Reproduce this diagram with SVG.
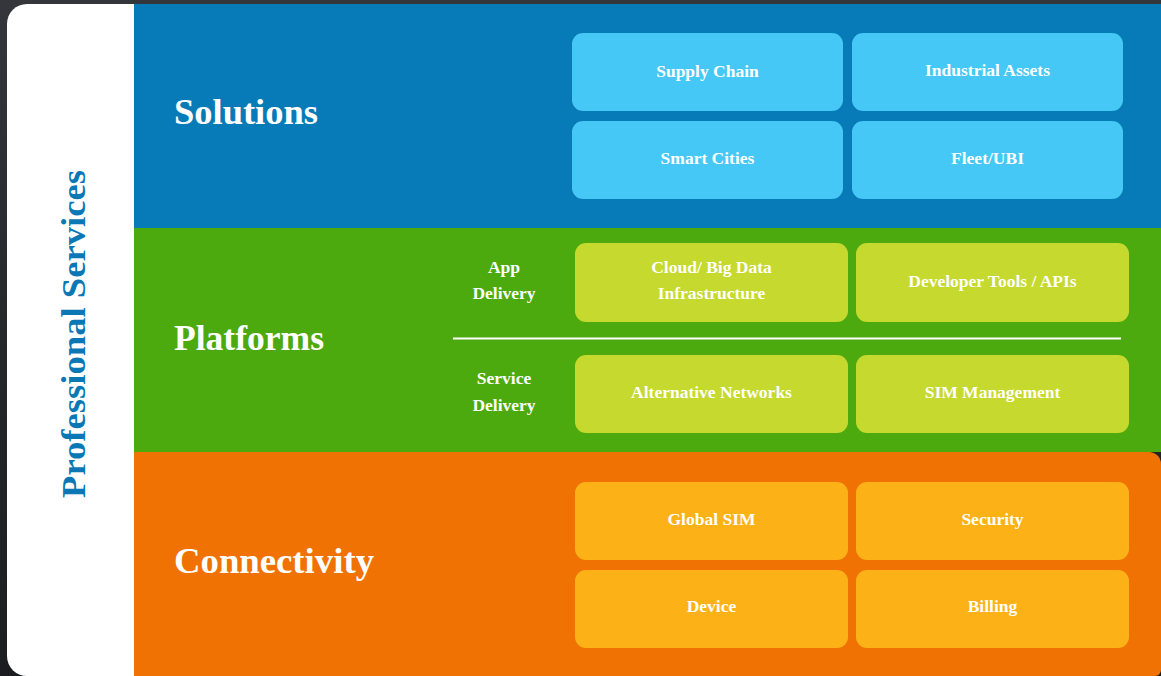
<svg xmlns="http://www.w3.org/2000/svg" width="1161" height="676" viewBox="0 0 1161 676">
<defs>
<linearGradient id="bg" x1="0" y1="0" x2="0" y2="1">
<stop offset="0" stop-color="#34363c"/>
<stop offset="0.5" stop-color="#25272b"/>
<stop offset="1" stop-color="#1b1d21"/>
</linearGradient>
</defs>
<style>
.title{font-family:"Liberation Serif",serif;font-weight:bold;font-size:36px;fill:#ffffff}
.lbl{font-family:"Liberation Serif",serif;font-weight:bold;font-size:17.5px;fill:#ffffff;text-anchor:middle}
.sb{fill:#45c8f5}
.gb{fill:#c6d92e}
.ob{fill:#fcb216}
</style>
<rect x="0" y="0" width="1161" height="676" fill="url(#bg)"/>
<g id="professional-services">
<path d="M27,4 H140 V676 H27 A20,20 0 0 1 7,656 V24 A20,20 0 0 1 27,4 Z" fill="#ffffff"/>
<text transform="translate(85,334) rotate(-90)" text-anchor="middle" font-family="Liberation Serif, serif" font-weight="bold" font-size="34" fill="#0b78b5" textLength="328" lengthAdjust="spacingAndGlyphs">Professional Services</text>
</g>
<g id="solutions">
<rect x="134" y="4" width="1027" height="224" fill="#077bb8"/>
<text class="title" x="174" y="124" textLength="144" lengthAdjust="spacingAndGlyphs">Solutions</text>
</g>
<g id="platforms">
<rect x="134" y="228" width="1027" height="224" fill="#4caa0e"/>
<text class="title" x="174" y="350" textLength="150" lengthAdjust="spacingAndGlyphs">Platforms</text>
<line x1="453" y1="338.5" x2="1121" y2="338.5" stroke="#ffffff" stroke-width="2"/>
<text class="lbl" x="504" y="273">App</text>
<text class="lbl" x="504" y="299">Delivery</text>
<text class="lbl" x="504" y="384">Service</text>
<text class="lbl" x="504" y="411">Delivery</text>
</g>
<g id="connectivity">
<path d="M134,452 H1149 A12,12 0 0 1 1161,464 V670 A6,6 0 0 1 1155,676 H134 Z" fill="#ef7202"/>
<text class="title" x="174" y="573" textLength="200" lengthAdjust="spacingAndGlyphs">Connectivity</text>
</g>
<g id="supply-chain"><rect class="sb" x="572" y="33" width="271" height="78" rx="11"/><text class="lbl" x="707.5" y="77">Supply Chain</text></g>
<g id="industrial-assets"><rect class="sb" x="852" y="33" width="271" height="78" rx="11"/><text class="lbl" x="987.5" y="76">Industrial Assets</text></g>
<g id="smart-cities"><rect class="sb" x="572" y="121" width="271" height="78" rx="11"/><text class="lbl" x="707.5" y="164">Smart Cities</text></g>
<g id="fleet-ubi"><rect class="sb" x="852" y="121" width="271" height="78" rx="11"/><text class="lbl" x="987.5" y="164">Fleet/UBI</text></g>
<g id="cloud-big-data"><rect class="gb" x="575" y="243" width="273" height="79" rx="11"/><text class="lbl" x="711.5" y="273">Cloud/ Big Data</text><text class="lbl" x="711.5" y="299">Infrastructure</text></g>
<g id="developer-tools"><rect class="gb" x="856" y="243" width="273" height="79" rx="11"/><text class="lbl" x="992.5" y="287">Developer Tools / APIs</text></g>
<g id="alternative-networks"><rect class="gb" x="575" y="355" width="273" height="78" rx="11"/><text class="lbl" x="711.5" y="398">Alternative Networks</text></g>
<g id="sim-management"><rect class="gb" x="856" y="355" width="273" height="78" rx="11"/><text class="lbl" x="992.5" y="398">SIM Management</text></g>
<g id="global-sim"><rect class="ob" x="575" y="482" width="273" height="78" rx="11"/><text class="lbl" x="711.5" y="525">Global SIM</text></g>
<g id="security"><rect class="ob" x="856" y="482" width="273" height="78" rx="11"/><text class="lbl" x="992.5" y="525">Security</text></g>
<g id="device"><rect class="ob" x="575" y="570" width="273" height="78" rx="11"/><text class="lbl" x="711.5" y="612">Device</text></g>
<g id="billing"><rect class="ob" x="856" y="570" width="273" height="78" rx="11"/><text class="lbl" x="992.5" y="612">Billing</text></g>
<g id="connectors"></g>
</svg>
